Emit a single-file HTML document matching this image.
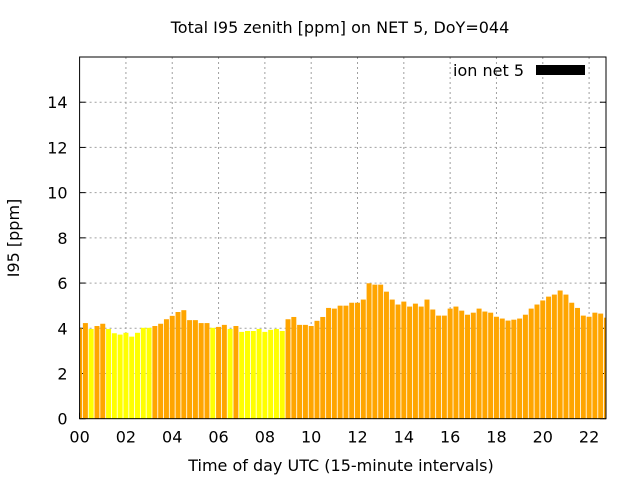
<!DOCTYPE html>
<html><head><meta charset="utf-8"><style>
body{margin:0;background:#fff}
svg{display:block;font-family:"DejaVu Sans","Liberation Sans",sans-serif}
</style></head><body>
<svg id="chart" width="640" height="480"></svg>
<script>
const values=[4.0,4.23,3.97,4.1,4.2,3.97,3.78,3.72,3.8,3.63,3.8,4.02,4.02,4.1,4.2,4.4,4.55,4.72,4.8,4.36,4.36,4.23,4.23,4.02,4.06,4.15,3.97,4.1,3.84,3.88,3.88,3.97,3.84,3.93,3.97,3.88,4.4,4.5,4.15,4.15,4.1,4.33,4.5,4.9,4.87,5.0,5.0,5.13,5.13,5.27,5.99,5.93,5.93,5.62,5.27,5.05,5.18,4.96,5.09,4.96,5.27,4.83,4.56,4.56,4.87,4.96,4.78,4.6,4.69,4.87,4.74,4.69,4.51,4.43,4.34,4.38,4.43,4.6,4.87,5.05,5.23,5.4,5.49,5.67,5.49,5.13,4.9,4.56,4.51,4.69,4.65,4.47];
const yellowFlags=[0,0,1,0,0,1,1,1,1,1,1,1,1,0,0,0,0,0,0,0,0,0,0,1,0,0,1,0,1,1,1,1,1,1,1,1,0,0,0,0,0,0,0,0,0,0,0,0,0,0,0,0,0,0,0,0,0,0,0,0,0,0,0,0,0,0,0,0,0,0,0,0,0,0,0,0,0,0,0,0,0,0,0,0,0,0,0,0,0,0,0,0];
const xTickLabels=["00","02","04","06","08","10","12","14","16","18","20","22"];
const yTickLabels=["0","2","4","6","8","10","12","14"];
const NS="http://www.w3.org/2000/svg";
const svg=document.getElementById('chart');
const L=79.6,R=606,T=57,B=418.7,XMAX=22.73,YMAX=16;
const xs=h=>L+h/XMAX*(R-L);
const ys=v=>B-v/YMAX*(B-T);
function mk(tag,attrs,parent){const e=document.createElementNS(NS,tag);for(const k in attrs)e.setAttribute(k,attrs[k]);(parent||svg).appendChild(e);return e;}
const clip=mk('clipPath',{id:'pc'});mk('rect',{x:L,y:T,width:R-L,height:B-T},clip);
yTickLabels.forEach((t,i)=>{const v=+t;const y=ys(v);
 if(v>0){const g=mk('line',{x1:L,x2:R,y1:y,y2:y,stroke:'#a0a0a0','stroke-dasharray':'2,3','stroke-width':1});
 
 }
 const tl=mk('line',{x1:L,x2:L+6,y1:y,y2:y,stroke:'#000'});
 
 
 const tr=mk('line',{x1:R-6,x2:R,y1:y,y2:y,stroke:'#000'});
 
 
 const tx=mk('text',{x:L-12,y:y+6,'text-anchor':'end','font-size':16,fill:'#000'});tx.textContent=t;
 
 
});
xTickLabels.forEach((t,i)=>{const x=xs(+t);
 if(+t>0){const g=mk('line',{x1:x,x2:x,y1:T,y2:B,stroke:'#a0a0a0','stroke-dasharray':'2,3','stroke-width':1});
 
 }
 const tk=mk('line',{x1:x,x2:x,y1:B,y2:B-6,stroke:'#000'});
 
 
 const tx=mk('text',{x:x,y:B+24,'text-anchor':'middle','font-size':16,fill:'#000'});tx.textContent=t;
 
 
});
const bw=(xs(0.25)-xs(0))*0.86;
const bg=mk('g',{'clip-path':'url(#pc)'});
values.forEach((v,i)=>{const cx=xs(i*0.25);
 const r=mk('rect',{x:cx-bw/2,y:ys(v),width:bw,height:B-ys(v),fill:yellowFlags[i]?'#ffff00':'#ffa500'},bg);
 
 
});
const bd=mk('rect',{x:L,y:T,width:R-L,height:B-T,fill:'none',stroke:'#000','stroke-width':1});


</script>
<svg width="640" height="480" style="position:absolute;left:0;top:0">
<text x="340" y="33" text-anchor="middle" font-size="16">Total I95 zenith [ppm] on NET 5, DoY=044</text>
<text x="341" y="471" text-anchor="middle" font-size="16">Time of day UTC (15-minute intervals)</text>
<text transform="translate(19,238) rotate(-90)" text-anchor="middle" font-size="16">I95 [ppm]</text>
<text x="524" y="76" text-anchor="end" font-size="16">ion net 5</text>
<rect x="536" y="65" width="49" height="10" fill="#000"/>
</svg>
</body></html>
